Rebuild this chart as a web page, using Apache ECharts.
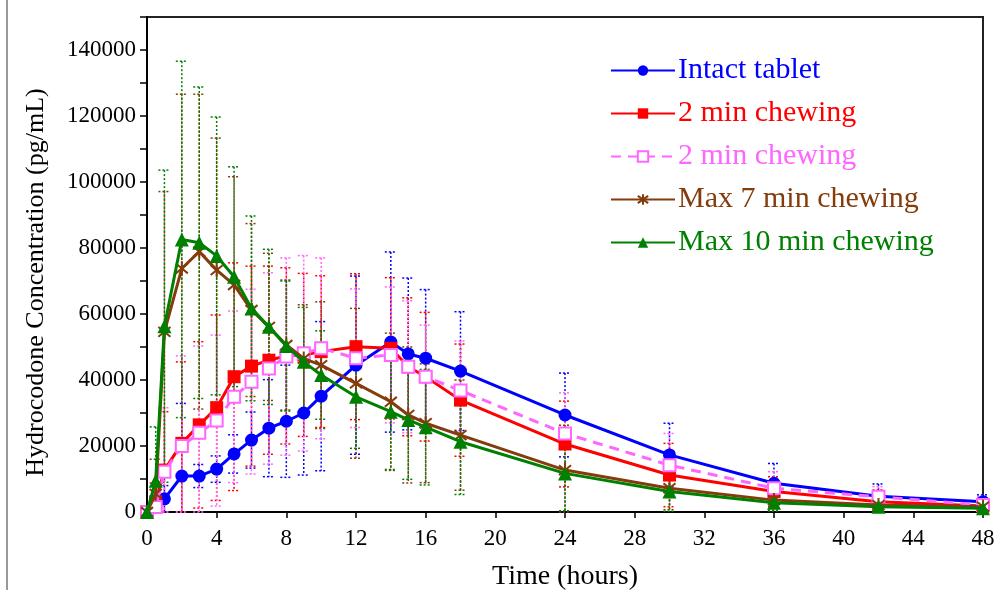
<!DOCTYPE html>
<html>
<head>
<meta charset="utf-8">
<script src="https://cdn.jsdelivr.net/npm/echarts@6/dist/echarts.min.js"></script>
<style>
  html, body { margin: 0; padding: 0; background: #fff; }
  #chart { width: 997px; height: 590px; }
</style>
</head>
<body>
<div id="chart"></div>
<script>
// Sampling times (hours)
const hours = [0, 0.5, 1, 2, 3, 4, 5, 6, 7, 8, 9, 10, 12, 14, 15, 16, 18, 24, 30, 36, 42, 48];

// Mean hydrocodone concentration (pg/mL) and standard deviation for each treatment
const intactMean = [0, 2000, 4000, 10900, 10900, 13000, 17600, 21800, 25400, 27500, 30000, 35100, 44500, 51500, 47900, 46600, 42700, 29400, 17300, 8700, 4800, 3100];
const intactSd   = [0, 1500, 4000, 22000, 3500, 4000, 5800, 8500, 14700, 17000, 18800, 22600, 27000, 27300, 23000, 20800, 18000, 12700, 9600, 6000, 3700, 2100];

const chew2Mean = [0, 3100, 12700, 20800, 26400, 31600, 41000, 44200, 46000, 47300, 47600, 48600, 50100, 49600, 44000, 41000, 33900, 20600, 11200, 6200, 3100, 1800];
const chew2Sd   = [0, 5700, 17700, 24700, 25200, 28100, 34500, 30300, 28500, 26700, 24700, 23000, 22100, 21400, 20900, 19500, 17000, 13000, 9600, 4500, 3600, 2300];

const chew2bMean = [0, 1500, 12200, 20000, 24000, 27700, 34900, 39500, 43500, 47100, 48100, 49600, 46600, 47600, 44000, 41000, 36800, 23800, 14200, 7200, 4600, 2100];
const chew2bSd   = [0, 2000, 19400, 27300, 26300, 25900, 26000, 28000, 29000, 29900, 29600, 27400, 21000, 20600, 20000, 15600, 15000, 12300, 9600, 5000, 3100, 2500];

const max7Mean = [0, 5500, 54600, 73800, 78900, 73300, 68800, 61200, 56100, 50600, 46500, 44500, 39000, 33400, 29400, 26900, 23300, 12700, 7200, 3600, 2100, 1600];
const max7Sd   = [0, 10500, 42500, 52800, 47700, 40000, 32800, 26200, 22300, 19700, 16300, 19200, 22700, 20800, 20600, 18000, 16700, 13600, 6500, 3000, 1500, 1000];

const max10Mean = [0, 9500, 56300, 82600, 81600, 77600, 71300, 61700, 56100, 50300, 45500, 41500, 34900, 30400, 27900, 25700, 21300, 11700, 6200, 2800, 1600, 1100];
const max10Sd   = [0, 16300, 47300, 54000, 47200, 42100, 33300, 28000, 23500, 19700, 16500, 13400, 15600, 17500, 18000, 17500, 16000, 11300, 6000, 2500, 1200, 800];

const legendLabels = ['Intact tablet', '2 min chewing', '2 min chewing', 'Max 7 min chewing', 'Max 10 min chewing'];
const xTicks = [0, 4, 8, 12, 16, 20, 24, 28, 32, 36, 40, 44, 48];

const FONT = '"Liberation Serif", "Times New Roman", serif';
const ASTERISK = 'path://M5,0 L5,10 M0.7,1.5 L9.3,8.5 M9.3,1.5 L0.7,8.5';

const groups = [
  { id: 'intact', mean: intactMean, sd: intactSd, color: '#0000ff', symbol: 'circle', size: 13 },
  { id: 'chew2',  mean: chew2Mean,  sd: chew2Sd,  color: '#ff0000', symbol: 'rect', size: 13 },
  { id: 'chew2b', mean: chew2bMean, sd: chew2bSd, color: '#ff66ff', symbol: 'emptyRect', size: 12, dashed: true },
  { id: 'max7',   mean: max7Mean,   sd: max7Sd,   color: '#843c0c', symbol: ASTERISK, size: 14, stroke: true },
  { id: 'max10',  mean: max10Mean,  sd: max10Sd,  color: '#008000', symbol: 'triangle', size: 14 }
];

function errorSeries(g) {
  const data = hours.map((t, i) => [t, Math.max(0, g.mean[i] - g.sd[i]), g.mean[i] + g.sd[i], g.sd[i]]);
  return {
    type: 'custom',
    name: g.id + '-sd',
    z: 1,
    silent: true,
    data: data,
    renderItem: function (params, api) {
      if (api.value(3) <= 0) return null;
      const x = api.value(0);
      const top = api.coord([x, api.value(2)]);
      const bot = api.coord([x, api.value(1)]);
      const hw = 6;
      const style = { stroke: g.color, lineWidth: 1.5, lineDash: [2, 2], fill: null };
      return {
        type: 'group',
        children: [
          { type: 'line', shape: { x1: top[0], y1: top[1], x2: bot[0], y2: bot[1] }, style: style },
          { type: 'line', shape: { x1: top[0] - hw, y1: top[1], x2: top[0] + hw, y2: top[1] }, style: style },
          { type: 'line', shape: { x1: bot[0] - hw, y1: bot[1], x2: bot[0] + hw, y2: bot[1] }, style: style }
        ]
      };
    }
  };
}

function lineSeries(g, idx) {
  const item = g.stroke
    ? { color: 'rgba(0,0,0,0)', borderColor: g.color, borderWidth: 2 }
    : (g.symbol === 'emptyRect' ? { color: g.color, borderColor: g.color, borderWidth: 2 } : { color: g.color });
  return {
    type: 'line',
    name: g.id,
    z: 3 + idx,
    data: hours.map((t, i) => [t, g.mean[i]]),
    symbol: g.symbol,
    symbolSize: g.size,
    showAllSymbol: true,
    symbolKeepAspect: true,
    lineStyle: { color: g.color, width: 3, type: g.dashed ? [10, 7] : 'solid' },
    itemStyle: item,
    emphasis: { disabled: true },
    animation: false
  };
}

const series = [];
groups.forEach(g => series.push(errorSeries(g)));
groups.forEach((g, i) => series.push(lineSeries(g, i)));

const chart = echarts.init(document.getElementById('chart'), null, { renderer: 'canvas' });
chart.setOption({
  animation: false,
  backgroundColor: '#fff',
  textStyle: { fontFamily: FONT },
  grid: {
    left: 147, right: 14, top: 17, bottom: 78,
    containLabel: false, outerBoundsMode: 'none',
    show: true, borderColor: '#222', borderWidth: 2, backgroundColor: 'transparent'
  },
  legend: {
    orient: 'vertical',
    left: 605,
    top: 50,
    itemWidth: 64,
    itemHeight: 13,
    itemGap: 12,
    selectedMode: false,
    data: groups.map((g, i) => ({ name: g.id, textStyle: { color: g.color } })),
    formatter: function (name) {
      return legendLabels[groups.findIndex(g => g.id === name)];
    },
    textStyle: { fontSize: 30, fontFamily: FONT, lineHeight: 31, padding: [0, 0, 0, -2] }
  },
  xAxis: {
    type: 'value',
    min: 0,
    max: 48,
    interval: 4,
    name: 'Time (hours)',
    nameLocation: 'middle',
    nameGap: 51,
    nameTextStyle: { fontSize: 28, color: '#000', fontFamily: FONT },
    axisLine: { lineStyle: { color: '#000', width: 2 } },
    axisTick: { show: true, inside: false, length: 6, lineStyle: { color: '#000', width: 1.5 } },
    axisLabel: {
      fontSize: 23, color: '#000', fontFamily: FONT, margin: 15,
      formatter: v => (xTicks.indexOf(v) >= 0 ? String(v) : '')
    },
    splitLine: { show: false }
  },
  yAxis: {
    type: 'value',
    min: 0,
    max: 150000,
    interval: 10000,
    name: 'Hydrocodone Concentration (pg/mL)',
    nameLocation: 'middle',
    nameGap: 98,
    nameTextStyle: { fontSize: 26, color: '#000', fontFamily: FONT, padding: [0, 36, 0, 0] },
    axisLine: { show: true, lineStyle: { color: '#000', width: 2 } },
    axisTick: { show: true, inside: false, length: 7, lineStyle: { color: '#000', width: 1.5 } },
    axisLabel: {
      fontSize: 23, color: '#000', fontFamily: FONT, margin: 11,
      formatter: v => (v % 20000 === 0 && v < 150000 ? String(v) : '')
    },
    splitLine: { show: false }
  },
  graphic: [
    { type: 'line', shape: { x1: 7, y1: 0, x2: 7, y2: 590 }, style: { stroke: '#999', lineWidth: 2 }, silent: true }
  ],
  series: series
});
</script>
</body>
</html>
